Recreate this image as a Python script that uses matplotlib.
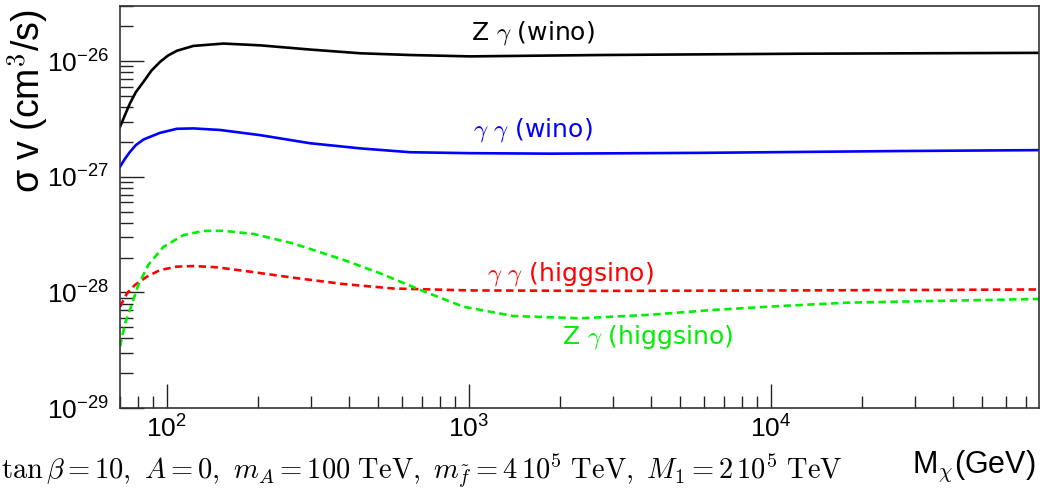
import matplotlib
matplotlib.use("Agg")
import matplotlib.pyplot as plt
from matplotlib.ticker import LogLocator, NullFormatter

plt.rcParams["font.family"] = ["Liberation Sans", "DejaVu Sans"]
plt.rcParams["mathtext.fontset"] = "cm"

# values (M in GeV, sigma v in cm^3/s)
m_zg_wino = [70, 72.8, 75.5, 79, 83.7, 89, 95, 101, 108, 122.5, 154, 204, 298, 437, 640, 1010,
             2720, 12500, 77000]
sv_zg_wino = [2.70e-27, 3.45e-27, 4.31e-27, 5.4e-27, 6.62e-27, 8.3e-27, 9.86e-27, 1.12e-26,
              1.23e-26, 1.355e-26, 1.42e-26, 1.37e-26, 1.26e-26, 1.17e-26, 1.13e-26, 1.10e-26,
              1.13e-26, 1.16e-26, 1.18e-26]

m_gg_wino = [70, 72.8, 75.5, 79, 83.7, 95, 108, 122.5, 150, 204, 298, 437, 640, 1010, 1860,
             5830, 26800, 77000]
sv_gg_wino = [1.22e-27, 1.44e-27, 1.64e-27, 1.88e-27, 2.10e-27, 2.40e-27, 2.60e-27, 2.62e-27,
              2.54e-27, 2.29e-27, 1.95e-27, 1.76e-27, 1.63e-27, 1.60e-27, 1.585e-27, 1.61e-27,
              1.67e-27, 1.70e-27]

m_gg_higgs = [70, 73.8, 78.5, 86, 95, 108, 122.5, 146, 189, 262, 385, 563, 1010, 2720, 12500, 77000]
sv_gg_higgs = [7.5e-29, 9.8e-29, 1.16e-28, 1.37e-28, 1.56e-28, 1.67e-28, 1.69e-28, 1.65e-28,
               1.51e-28, 1.34e-28, 1.18e-28, 1.08e-28, 1.04e-28, 1.03e-28, 1.04e-28, 1.06e-28]

m_zg_higgs = [70, 72.8, 75.5, 80.5, 86.9, 97.5, 113.5, 132, 154, 194, 262, 385, 509, 690, 958,
              1400, 2340, 3890, 6440, 10700, 17900, 23000, 77000]
sv_zg_higgs = [3.4e-29, 5.41e-29, 7.05e-29, 1.16e-28, 1.73e-28, 2.48e-28, 3.13e-28, 3.40e-28,
               3.41e-28, 3.20e-28, 2.65e-28, 1.91e-28, 1.46e-28, 1.05e-28, 7.52e-29,
               6.25e-29, 5.97e-29, 6.38e-29, 7.05e-29, 7.62e-29, 8.15e-29, 8.26e-29, 8.77e-29]

x_major = [1e2, 1e3, 1e4]
y_major = [1e-29, 1e-28, 1e-27, 1e-26]

fig = plt.figure(figsize=(10.4, 4.94), dpi=100)
ax = fig.add_axes([120 / 1040, 86 / 494, 919 / 1040, 402 / 494])

ax.plot(m_zg_wino, sv_zg_wino, color="black", lw=1.9)
ax.plot(m_gg_wino, sv_gg_wino, color="#0000ff", lw=1.9)
ax.plot(m_gg_higgs, sv_gg_higgs, color="#ff0000", lw=1.9, dashes=(2.8, 1.7))
ax.plot(m_zg_higgs, sv_zg_higgs, color="#00ee00", lw=1.9, dashes=(2.8, 1.7))

ax.set_xscale("log")
ax.set_yscale("log")
ax.set_xticks(x_major)
ax.set_yticks(y_major)
ax.xaxis.set_minor_locator(LogLocator(base=10, subs=range(2, 10), numticks=20))
ax.yaxis.set_minor_locator(LogLocator(base=10, subs=range(2, 10), numticks=20))
ax.xaxis.set_minor_formatter(NullFormatter())
ax.yaxis.set_minor_formatter(NullFormatter())
ax.set_xlim(70, 7.7e4)
ax.set_ylim(1e-29, 3e-26)

ax.tick_params(which="both", direction="in", top=False, right=False, colors="#222222",
               labelsize=19, labelcolor="black")
ax.tick_params(which="major", length=17, width=1)
ax.tick_params(which="minor", length=9, width=1)
ax.tick_params(axis="y", pad=8)
ax.tick_params(axis="x", pad=5)
for s in ax.spines.values():
    s.set_color("#333333")
    s.set_linewidth(1.2)

# curve labels
lbl = dict(fontsize=18, ha="center", va="center", family=["DejaVu Sans"])
fig.text(533 / 1040, 1 - 33 / 494, r"Z $\gamma$ (wino)", color="black", **lbl)
fig.text(533 / 1040, 1 - 130 / 494, r"$\gamma$ $\gamma$ (wino)", color="#0000ff", **lbl)
fig.text(570 / 1040, 1 - 274 / 494, r"$\gamma$ $\gamma$ (higgsino)", color="#ff0000", **lbl)
fig.text(647 / 1040, 1 - 337 / 494, r"Z $\gamma$ (higgsino)", color="#00ee00", **lbl)

# axis titles
fig.text(28 / 1040, 1 - 9 / 494, r"σ v (cm$^{\mathsf{3}}$/s)", rotation=90, ha="center", va="top",
         fontsize=27)
fig.text(1036 / 1040, 1 - 466 / 494, r"M$_\chi$(GeV)", ha="right", va="center", fontsize=22)

# parameter line at the bottom (left end runs off the canvas, as in the original)
fig.text(842 / 1040, 1 - 471 / 494,
         r"$\tan\beta = 10,\ A = 0,\ m_A = 100\ \mathrm{TeV},\ m_{\tilde f} = 4\,10^5\ \mathrm{TeV},\ M_1 = 2\,10^5\ \mathrm{TeV}$",
         ha="right", va="center", fontsize=20.5)

fig.savefig("out.png", dpi=100)
